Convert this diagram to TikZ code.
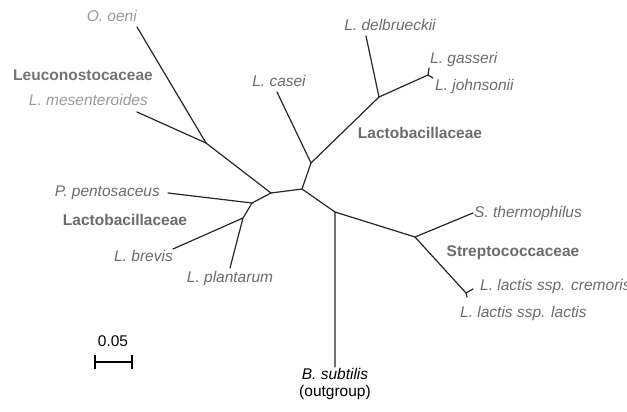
\documentclass[tikz,border=0pt]{standalone}
\usepackage{fontspec}
\setmainfont{Liberation Sans}
\begin{document}
\begin{tikzpicture}[x=1pt,y=-1pt,
  branch/.style={line width=1.2pt, draw=black!85, line cap=round, line join=round},
  taxon/.style={font=\fontsize{15.5}{18}\selectfont\itshape, text=black!58, inner sep=0pt, text height=11pt, text depth=3pt},
  taxonlight/.style={taxon, text=black!40},
  family/.style={font=\fontsize{15.5}{18}\selectfont\bfseries, text=black!58, inner sep=0pt, text height=11pt, text depth=3pt},
  plain/.style={font=\fontsize{15.5}{18}\selectfont, text=black, inner sep=0pt, text height=11pt, text depth=3pt}]
\useasboundingbox (0,0) rectangle (627,412);
% junctions
\coordinate (R) at (302,189);
\coordinate (C) at (311,163);
\coordinate (D) at (379,97);
\coordinate (G) at (428,75);
\coordinate (A) at (271,193);
\coordinate (O) at (206,143);
\coordinate (P) at (252,203);
\coordinate (Q) at (243,218);
\coordinate (B) at (335,212);
\coordinate (S) at (415,237);
\coordinate (K) at (466,293);
% tips
\coordinate (tLc) at (277,92);
\coordinate (tLd) at (366,36);
\coordinate (tLg) at (429,68);
\coordinate (tLj) at (433,78);
\coordinate (tOo) at (137,27);
\coordinate (tLm) at (137,112);
\coordinate (tPp) at (168,193);
\coordinate (tLb) at (173,249);
\coordinate (tLp) at (230,268);
\coordinate (tBs) at (335,367);
\coordinate (tSt) at (473,213);
\coordinate (tKc) at (473,289);
\coordinate (tKl) at (467,297);
% branches
\draw[branch] (R) -- (C) -- (D) -- (G) -- (tLg);
\draw[branch] (G) -- (tLj);
\draw[branch] (D) -- (tLd);
\draw[branch] (C) -- (tLc);
\draw[branch] (R) -- (A) -- (O) -- (tOo);
\draw[branch] (O) -- (tLm);
\draw[branch] (A) -- (P) -- (Q) -- (tLb);
\draw[branch] (P) -- (tPp);
\draw[branch] (Q) -- (tLp);
\draw[branch] (R) -- (B) -- (tBs);
\draw[branch] (B) -- (S) -- (tSt);
\draw[branch] (S) -- (K) -- (tKc);
\draw[branch] (K) -- (tKl);
% labels
\node[taxonlight, anchor=east] (nOo) at (137,18) {O. oeni};
\node[family, text=black!55, anchor=east] (fLeu) at (153,77) {Leuconostocaceae};
\node[taxonlight, anchor=east] (nLm) at (148,102) {L. mesenteroides};
\node[taxon] (nLc) at (279,83) {L. casei};
\node[taxon] (nLd) at (390,27) {L. delbrueckii};
\node[taxon, anchor=west] (nLg) at (430,60) {L. gasseri};
\node[taxon, anchor=west] (nLj) at (435,87) {L. johnsonii};
\node[family] (fLac1) at (420,134) {Lactobacillaceae};
\node[taxon, anchor=east] (nPp) at (160,192) {P. pentosaceus};
\node[family] (fLac2) at (125,221) {Lactobacillaceae};
\node[taxon, anchor=east] (nLb) at (173,257) {L. brevis};
\node[taxon] (nLp) at (230,278) {L. plantarum};
\node[taxon, anchor=west] (nSt) at (474,213) {S. thermophilus};
\node[family] (fStr) at (513,252) {Streptococcaceae};
\node[taxon, anchor=west] (nKc) at (480,286) {L. lactis ssp. cremoris};
\node[taxon, anchor=west] (nKl) at (460,313) {L. lactis ssp. lactis};
\node[plain, font=\fontsize{15.5}{18}\selectfont\itshape] (nBs) at (335,375) {B. subtilis};
\node[plain] (nOut) at (335,392) {(outgroup)};
% scale bar
\node[plain] (nScale) at (113,342) {0.05};
\coordinate (s1) at (95,362);
\coordinate (s2) at (132,362);
\draw[line width=1.6pt] (s1) -- (s2);
\draw[line width=1.6pt] ([yshift=-7pt]s1) -- ([yshift=7pt]s1);
\draw[line width=1.6pt] ([yshift=-7pt]s2) -- ([yshift=7pt]s2);
\end{tikzpicture}
\end{document}
